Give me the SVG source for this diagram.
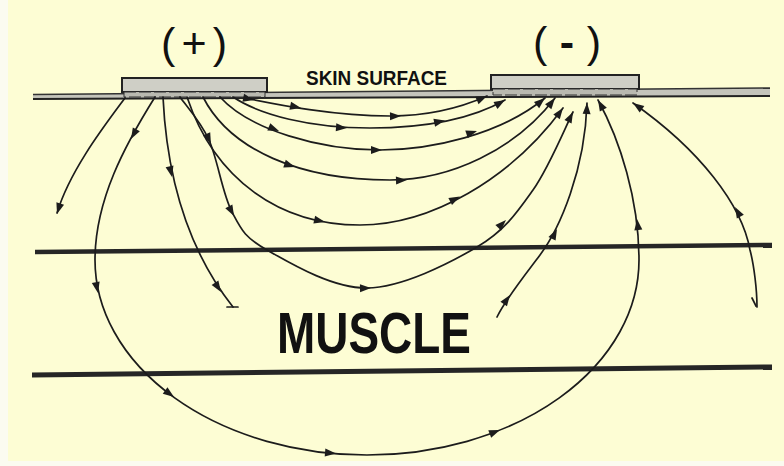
<svg xmlns="http://www.w3.org/2000/svg" xmlns:xlink="http://www.w3.org/1999/xlink" width="784" height="466" viewBox="0 0 784 466">
<style>
.fl{fill:none;stroke:#1c1c1c;stroke-width:1.7;stroke-linecap:round}
.ah{fill:#1c1c1c}
.lbl{font-family:"Liberation Sans",Arial,sans-serif;fill:#111}
.layer{stroke:#262626;fill:none}
.elec{fill:#cfcfc6;stroke:#222;stroke-width:2}
.strip{fill:#b9b9b0;stroke:#333;stroke-width:1}
</style>
<defs>
<path id="ah" class="ah" d="M0,0 L-11,-4 L-11,4 Z"/>
</defs>
<rect x="0" y="0" width="784" height="466" fill="#fbfbf0"/>
<rect x="8" y="0" width="776" height="461" fill="#fdfdd4"/>

<g id="layers">
<line class="layer" x1="35" y1="252" x2="772" y2="245" stroke-width="4.5"/>
<line class="layer" x1="32" y1="375" x2="772" y2="367" stroke-width="5"/>
</g>

<g id="skin">
<polygon points="33,94.5 770,88 770,96 33,99" fill="#c4c4bb"/>
<line x1="33" y1="94.5" x2="770" y2="88" stroke="#333" stroke-width="1.4"/>
<line x1="33" y1="99" x2="770" y2="96" stroke="#222" stroke-width="2"/>
</g>

<g id="electrode-plus">
<rect class="elec" x="122" y="78" width="145" height="14"/>
<rect class="strip" x="124" y="92" width="141" height="5" stroke-dasharray="12 3"/>
</g>
<g id="electrode-minus">
<rect class="elec" x="491" y="75" width="148" height="14"/>
<rect class="strip" x="493" y="89" width="144" height="6" stroke-dasharray="12 3"/>
</g>

<g id="labels">
<text class="lbl" x="161" y="58" font-size="43" textLength="66" lengthAdjust="spacing">(+)</text>
<text class="lbl" x="533" y="57" font-size="43" textLength="68" lengthAdjust="spacing">(<tspan font-weight="bold">-</tspan>)</text>
<text class="lbl" x="306" y="85" font-size="20.5" font-weight="bold" textLength="141" lengthAdjust="spacingAndGlyphs">SKIN SURFACE</text>
<text class="lbl" x="277" y="353" font-size="57" font-weight="bold" textLength="194" lengthAdjust="spacingAndGlyphs">MUSCLE</text>
</g>

<g id="connectors">
<!-- outward short line left -->
<path class="fl" d="M125,98 C105,125 70,170 57,213"/>
<use xlink:href="#ah" transform="translate(57,214) rotate(107)"/>

<!-- big outer loop -->
<path class="fl" d="M155,97 C125,145 95,200 95,260 A272,195 0 0 0 367,455 A272,195 0 0 0 639,260 C639,200 620,140 598,100"/>
<use xlink:href="#ah" transform="translate(131,139) rotate(119)"/>
<use xlink:href="#ah" transform="translate(98,293) rotate(78)"/>
<use xlink:href="#ah" transform="translate(174,397) rotate(36)"/>
<use xlink:href="#ah" transform="translate(336,453.5) rotate(5)"/>
<use xlink:href="#ah" transform="translate(500,430) rotate(-21)"/>
<use xlink:href="#ah" transform="translate(637,219) rotate(-97)"/>
<use xlink:href="#ah" transform="translate(598,100) rotate(-119)"/>

<!-- line ending near muscle (from +) -->
<path class="fl" d="M163,97 C166,160 180,240 233,307"/>
<line class="fl" x1="227" y1="307" x2="238" y2="307"/>
<use xlink:href="#ah" transform="translate(172,177) rotate(77)"/>
<use xlink:href="#ah" transform="translate(221,292) rotate(57)"/>

<!-- arc 6 -->
<path class="fl" d="M180,97 C184.8,104.2 200.3,120.8 209,140 C217.7,159.2 222.3,193.7 232,212 C241.7,230.3 244.5,237.3 267,250 C289.5,262.7 332,288.5 367,288 C402,287.5 449.3,263.3 477,247 C504.7,230.7 517,212.5 533,190 C549,167.5 566.3,125 573,112"/>
<use xlink:href="#ah" transform="translate(211,144) rotate(66)"/>
<use xlink:href="#ah" transform="translate(234,216) rotate(62)"/>
<use xlink:href="#ah" transform="translate(371,288) rotate(-1)"/>
<use xlink:href="#ah" transform="translate(506,220) rotate(-45)"/>
<use xlink:href="#ah" transform="translate(573,112) rotate(-63)"/>

<!-- arc 5 -->
<path class="fl" d="M187,97 C215,180 280,225 360,225 C430,225 510,180 563,108"/>
<use xlink:href="#ah" transform="translate(325,222) rotate(13)"/>
<use xlink:href="#ah" transform="translate(460,196.5) rotate(-27)"/>
<use xlink:href="#ah" transform="translate(563,108) rotate(-54)"/>

<!-- arc 4 -->
<path class="fl" d="M203,97 C230,150 300,180 390,180 C450,180 515,150 555,98"/>
<use xlink:href="#ah" transform="translate(295,167) rotate(18)"/>
<use xlink:href="#ah" transform="translate(407,180) rotate(-2)"/>
<use xlink:href="#ah" transform="translate(555,98) rotate(-52)"/>

<!-- arc 3 -->
<path class="fl" d="M220,97 C250,130 320,150 380,150 C430,150 500,135 545,98"/>
<use xlink:href="#ah" transform="translate(279,131) rotate(22)"/>
<use xlink:href="#ah" transform="translate(382,150) rotate(0)"/>
<use xlink:href="#ah" transform="translate(477,131) rotate(-18)"/>
<use xlink:href="#ah" transform="translate(545,98) rotate(-40)"/>

<!-- arc 2 -->
<path class="fl" d="M233,97 C260,115 310,128 370,128 C420,128 470,120 505,100"/>
<use xlink:href="#ah" transform="translate(347,128) rotate(4)"/>
<use xlink:href="#ah" transform="translate(445,120.5) rotate(-12)"/>
<use xlink:href="#ah" transform="translate(505,100) rotate(-30)"/>

<!-- arc 1 -->
<path class="fl" d="M245,98 C270,103 330,116 390,116 C430,116 460,108 487,96"/>
<use xlink:href="#ah" transform="translate(254,100) rotate(12)"/>
<use xlink:href="#ah" transform="translate(301,108) rotate(12)"/>
<use xlink:href="#ah" transform="translate(401,116) rotate(-1)"/>
<use xlink:href="#ah" transform="translate(487,96) rotate(-24)"/>

<!-- open line to (-) ending near MUSCLE -->
<path class="fl" d="M497,317 C505,300 525,275 540,255 C560,228 585,170 587,103"/>
<use xlink:href="#ah" transform="translate(510,295) rotate(-55)"/>
<use xlink:href="#ah" transform="translate(557,229) rotate(-63)"/>
<use xlink:href="#ah" transform="translate(587,103) rotate(-88)"/>

<!-- right line to (-) -->
<path class="fl" d="M757,307 C757,290 754,265 750,250 C742,205 700,150 633,103"/>
<line class="fl" x1="752" y1="298" x2="756" y2="306"/>
<use xlink:href="#ah" transform="translate(735,207) rotate(-119)"/>
<use xlink:href="#ah" transform="translate(633,103) rotate(-145)"/>
</g>
</svg>
